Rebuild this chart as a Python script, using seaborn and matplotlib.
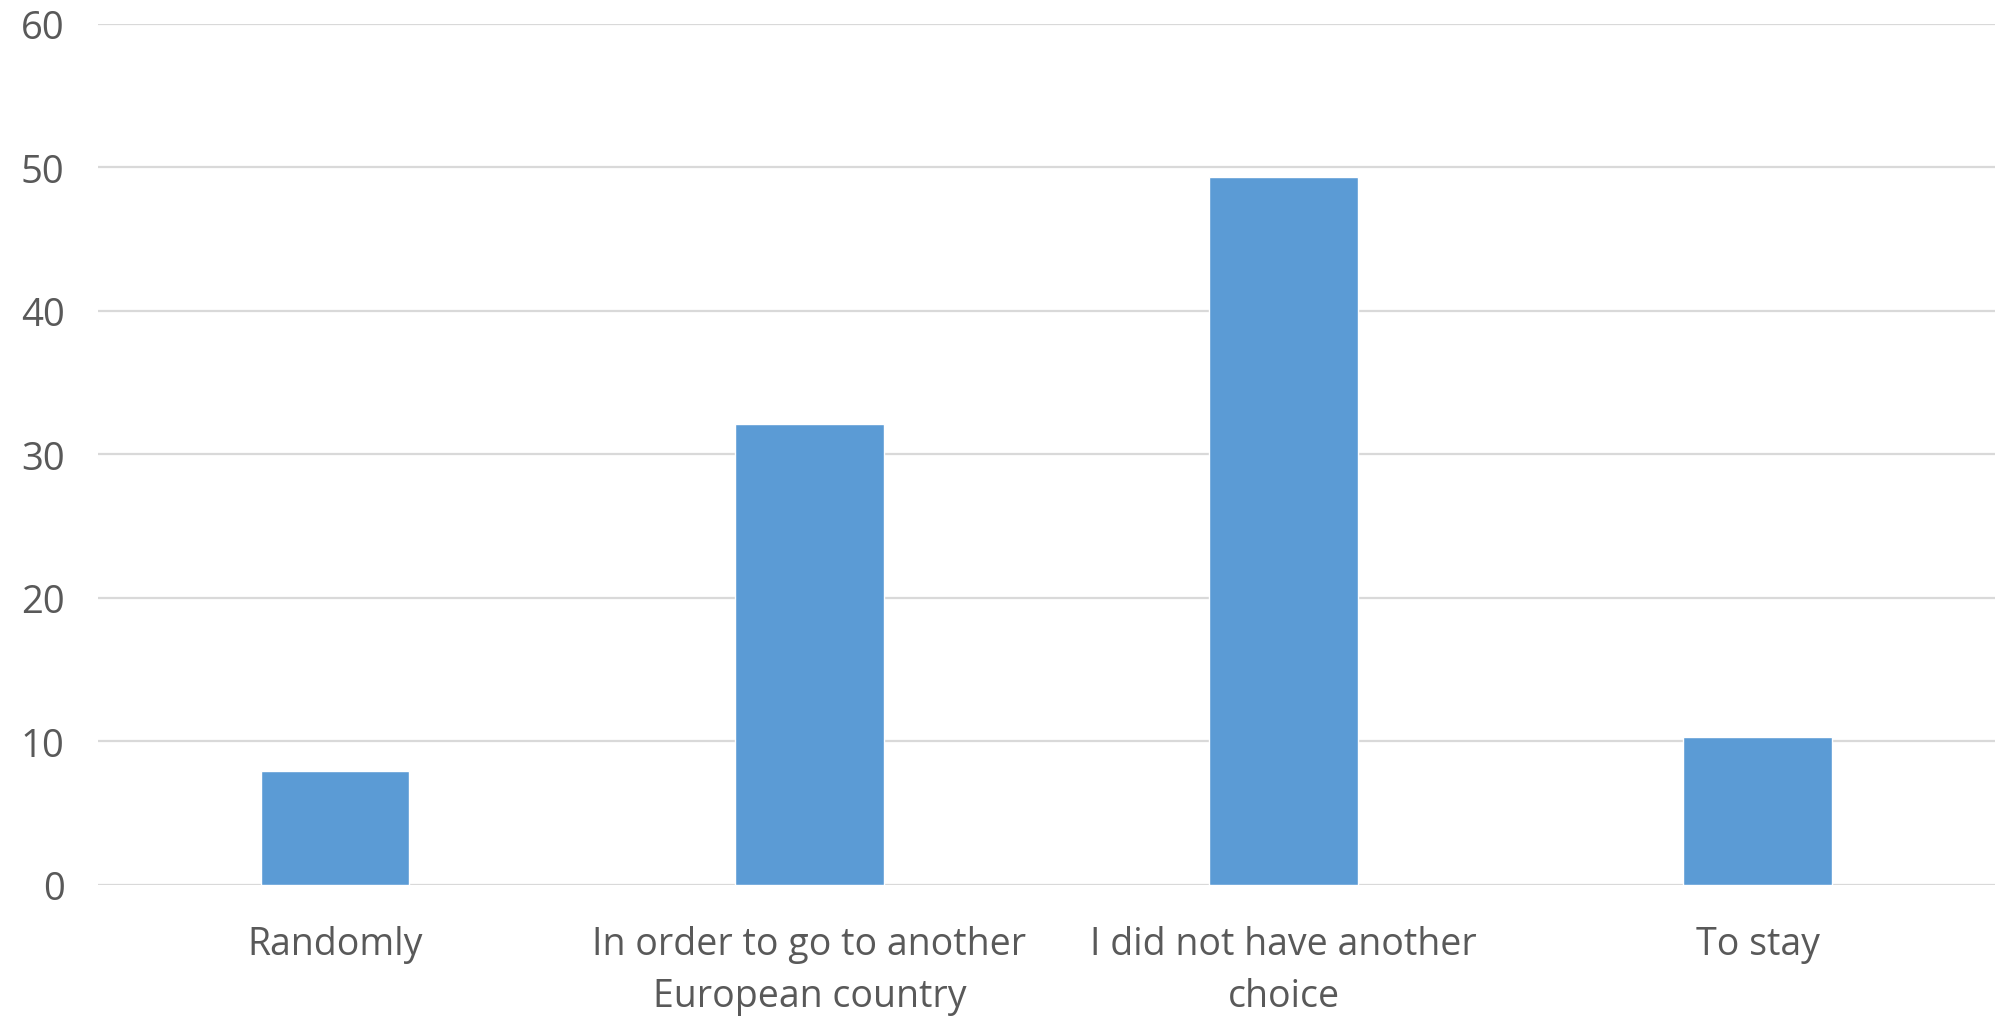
import matplotlib
matplotlib.use("Agg")
import matplotlib.pyplot as plt
import seaborn as sns
import pandas as pd

categories = ["Randomly", "In order to go to another\nEuropean country",
              "I did not have another\nchoice", "To stay"]
values = [7.9, 32.1, 49.3, 10.3]
yticks = [0, 10, 20, 30, 40, 50, 60]

sns.set_theme(style="white")
plt.rcParams['font.family'] = ['Open Sans', 'DejaVu Sans']

df = pd.DataFrame({"category": categories, "value": values})

fig = plt.figure(figsize=(19.97, 10.2), dpi=100)
ax = fig.add_axes([0.049, 0.1317, 0.950, 0.8438])
sns.barplot(data=df, x="category", y="value", color="#5B9BD5", saturation=1,
            width=0.314, ax=ax, zorder=3)
ax.set_ylim(0, 60)
ax.set_xlim(-0.5, 3.5)
ax.set_yticks(yticks)
ax.yaxis.grid(True, color="#D9D9D9", linewidth=1.6, zorder=0)
ax.set_axisbelow(True)
for s in ax.spines.values():
    s.set_visible(False)
ax.set_xlabel("")
ax.set_ylabel("")
ax.tick_params(axis="y", length=0, pad=24, labelsize=27.5, labelcolor="#595959")
ax.tick_params(axis="x", length=0, pad=29, labelsize=27, labelcolor="#595959")
for t in ax.get_xticklabels():
    t.set_linespacing(1.5)

fig.savefig("out.png", dpi=100)
